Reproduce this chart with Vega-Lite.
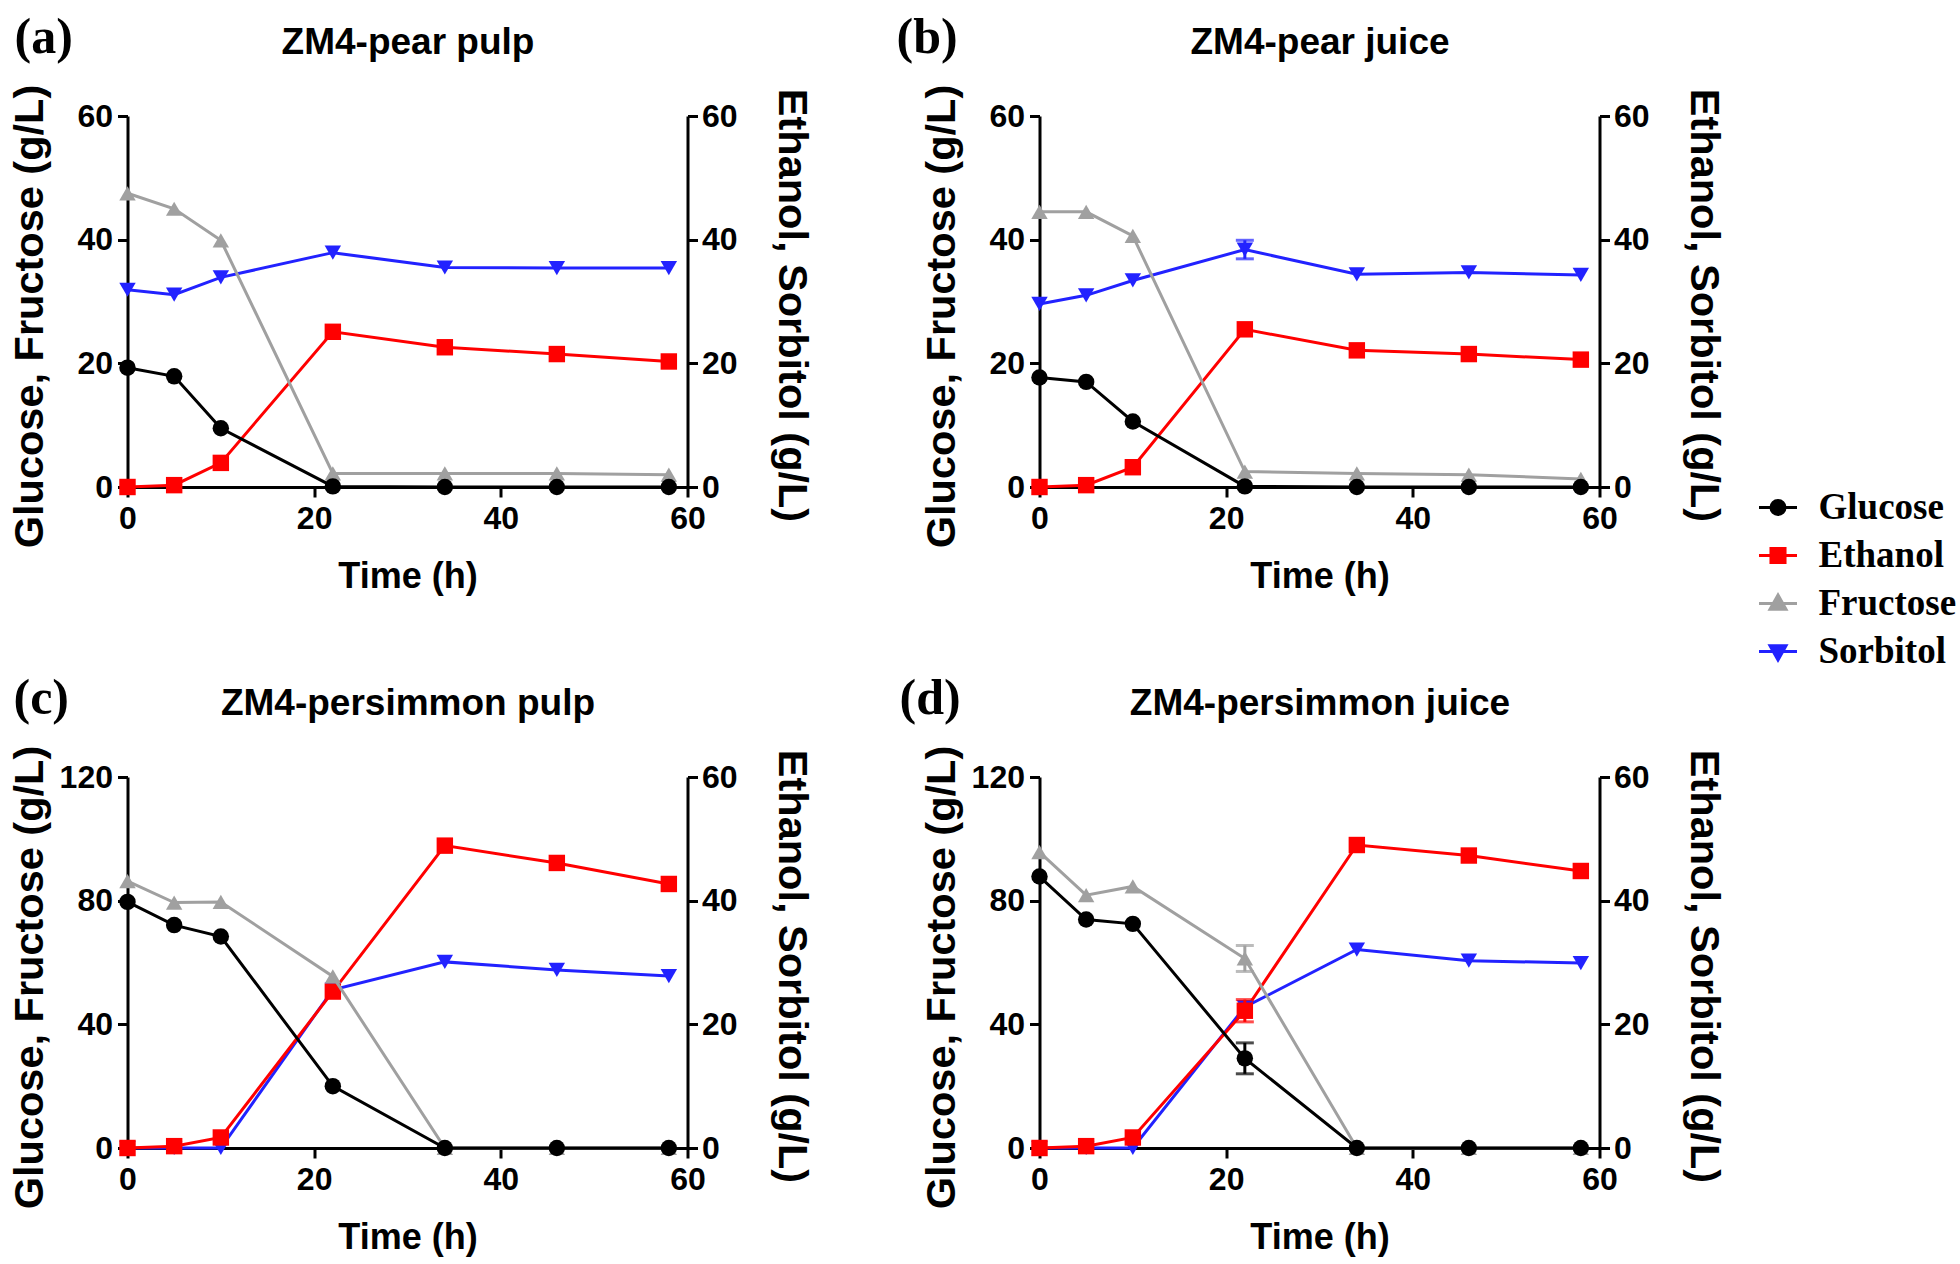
{
  "$schema": "https://vega.github.io/schema/vega-lite/v6.json",
  "padding": {"left": 9.5, "top": 13, "right": 5, "bottom": 5},
  "background": "white",
  "config": {
    "view": {"stroke": null},
    "font": "Liberation Sans",
    "axis": {
      "grid": false, "domainColor": "black", "domainWidth": 3, "tickColor": "black", "tickWidth": 3, "tickSize": 10,
      "labelFont": "Liberation Sans", "labelFontWeight": "bold", "labelFontSize": 32, "labelColor": "black",
      "labelFlush": false, "labelOverlap": false,
      "titleFont": "Liberation Sans", "titleFontWeight": "bold", "titleFontSize": 41.5, "titleColor": "black"
    },
    "axisLeft": {"labelPadding": 5, "minExtent": 70, "maxExtent": 70, "titlePadding": 6, "titleY": 200},
    "axisRight": {"labelPadding": 4, "minExtent": 60, "maxExtent": 60, "titlePadding": 22, "titleY": 189},
    "axisBottom": {"labelPadding": 6, "titlePadding": 25, "titleFontSize": 36},
    "axisTop": {"labels": false, "ticks": false, "domain": false, "minExtent": 0, "maxExtent": 0, "titlePadding": 55, "titleFontSize": 37},
    "title": {"anchor": "start", "frame": "group", "offset": -40, "font": "Liberation Serif", "fontSize": 50, "fontWeight": "bold", "color": "black"},
    "point": {"filled": true, "size": 270, "opacity": 1, "strokeWidth": 0},
    "line": {"strokeWidth": 3},
    "legend": {"orient": "none", "legendX": 1630, "legendY": 371, "labelFont": "Liberation Serif", "labelFontSize": 37, "labelFontWeight": "bold", "labelColor": "black", "symbolSize": 1444, "symbolStrokeWidth": 3, "symbolOpacity": 1, "labelOffset": 20, "rowPadding": 9, "padding": 0}
  },
  "datasets": {
    "d": [
      {"p":"a","s":"Sorbitol","t":0,"v":31.9},{"p":"a","s":"Sorbitol","t":5,"v":31.1},{"p":"a","s":"Sorbitol","t":10,"v":33.9},{"p":"a","s":"Sorbitol","t":22,"v":37.9},{"p":"a","s":"Sorbitol","t":34,"v":35.5},{"p":"a","s":"Sorbitol","t":46,"v":35.4},{"p":"a","s":"Sorbitol","t":58,"v":35.4},
      {"p":"a","s":"Ethanol","t":0,"v":0},{"p":"a","s":"Ethanol","t":5,"v":0.3},{"p":"a","s":"Ethanol","t":10,"v":3.9},{"p":"a","s":"Ethanol","t":22,"v":25.1},{"p":"a","s":"Ethanol","t":34,"v":22.6},{"p":"a","s":"Ethanol","t":46,"v":21.5},{"p":"a","s":"Ethanol","t":58,"v":20.3},
      {"p":"a","s":"Fructose","t":0,"v":47.5},{"p":"a","s":"Fructose","t":5,"v":45.0},{"p":"a","s":"Fructose","t":10,"v":39.9},{"p":"a","s":"Fructose","t":22,"v":2.2},{"p":"a","s":"Fructose","t":34,"v":2.2},{"p":"a","s":"Fructose","t":46,"v":2.2},{"p":"a","s":"Fructose","t":58,"v":2.0},
      {"p":"a","s":"Glucose","t":0,"v":19.3},{"p":"a","s":"Glucose","t":5,"v":17.9},{"p":"a","s":"Glucose","t":10,"v":9.5},{"p":"a","s":"Glucose","t":22,"v":0.1},{"p":"a","s":"Glucose","t":34,"v":0},{"p":"a","s":"Glucose","t":46,"v":0},{"p":"a","s":"Glucose","t":58,"v":0},

      {"p":"b","s":"Sorbitol","t":0,"v":29.6},{"p":"b","s":"Sorbitol","t":5,"v":31.0},{"p":"b","s":"Sorbitol","t":10,"v":33.4},{"p":"b","s":"Sorbitol","t":22,"v":38.4,"e":1.5},{"p":"b","s":"Sorbitol","t":34,"v":34.4},{"p":"b","s":"Sorbitol","t":46,"v":34.7},{"p":"b","s":"Sorbitol","t":58,"v":34.3},
      {"p":"b","s":"Ethanol","t":0,"v":0},{"p":"b","s":"Ethanol","t":5,"v":0.3},{"p":"b","s":"Ethanol","t":10,"v":3.2},{"p":"b","s":"Ethanol","t":22,"v":25.5},{"p":"b","s":"Ethanol","t":34,"v":22.1},{"p":"b","s":"Ethanol","t":46,"v":21.5},{"p":"b","s":"Ethanol","t":58,"v":20.6},
      {"p":"b","s":"Fructose","t":0,"v":44.5},{"p":"b","s":"Fructose","t":5,"v":44.5},{"p":"b","s":"Fructose","t":10,"v":40.6},{"p":"b","s":"Fructose","t":22,"v":2.5},{"p":"b","s":"Fructose","t":34,"v":2.2},{"p":"b","s":"Fructose","t":46,"v":2.0},{"p":"b","s":"Fructose","t":58,"v":1.3},
      {"p":"b","s":"Glucose","t":0,"v":17.7},{"p":"b","s":"Glucose","t":5,"v":17.0},{"p":"b","s":"Glucose","t":10,"v":10.6},{"p":"b","s":"Glucose","t":22,"v":0.1},{"p":"b","s":"Glucose","t":34,"v":0},{"p":"b","s":"Glucose","t":46,"v":0},{"p":"b","s":"Glucose","t":58,"v":0},

      {"p":"c","s":"Sorbitol","t":0,"v":0},{"p":"c","s":"Sorbitol","t":5,"v":0},{"p":"c","s":"Sorbitol","t":10,"v":0},{"p":"c","s":"Sorbitol","t":22,"v":25.6},{"p":"c","s":"Sorbitol","t":34,"v":30.1},{"p":"c","s":"Sorbitol","t":46,"v":28.8},{"p":"c","s":"Sorbitol","t":58,"v":27.8},
      {"p":"c","s":"Ethanol","t":0,"v":0},{"p":"c","s":"Ethanol","t":5,"v":0.3},{"p":"c","s":"Ethanol","t":10,"v":1.7},{"p":"c","s":"Ethanol","t":22,"v":25.3},{"p":"c","s":"Ethanol","t":34,"v":48.9},{"p":"c","s":"Ethanol","t":46,"v":46.1},{"p":"c","s":"Ethanol","t":58,"v":42.7},
      {"p":"c","s":"Fructose","t":0,"v":86.3},{"p":"c","s":"Fructose","t":5,"v":79.4},{"p":"c","s":"Fructose","t":10,"v":79.6},{"p":"c","s":"Fructose","t":22,"v":55.5},{"p":"c","s":"Fructose","t":34,"v":0},{"p":"c","s":"Fructose","t":46,"v":0},{"p":"c","s":"Fructose","t":58,"v":0},
      {"p":"c","s":"Glucose","t":0,"v":79.6},{"p":"c","s":"Glucose","t":5,"v":72.1},{"p":"c","s":"Glucose","t":10,"v":68.4},{"p":"c","s":"Glucose","t":22,"v":20.0},{"p":"c","s":"Glucose","t":34,"v":0},{"p":"c","s":"Glucose","t":46,"v":0},{"p":"c","s":"Glucose","t":58,"v":0},

      {"p":"d","s":"Sorbitol","t":0,"v":0},{"p":"d","s":"Sorbitol","t":5,"v":0},{"p":"d","s":"Sorbitol","t":10,"v":0},{"p":"d","s":"Sorbitol","t":22,"v":22.8},{"p":"d","s":"Sorbitol","t":34,"v":32.1},{"p":"d","s":"Sorbitol","t":46,"v":30.3},{"p":"d","s":"Sorbitol","t":58,"v":29.9},
      {"p":"d","s":"Ethanol","t":0,"v":0},{"p":"d","s":"Ethanol","t":5,"v":0.3},{"p":"d","s":"Ethanol","t":10,"v":1.7},{"p":"d","s":"Ethanol","t":22,"v":22.2,"e":1.8},{"p":"d","s":"Ethanol","t":34,"v":49.0},{"p":"d","s":"Ethanol","t":46,"v":47.3},{"p":"d","s":"Ethanol","t":58,"v":44.8},
      {"p":"d","s":"Fructose","t":0,"v":95.7},{"p":"d","s":"Fructose","t":5,"v":81.8},{"p":"d","s":"Fructose","t":10,"v":84.6},{"p":"d","s":"Fructose","t":22,"v":61.3,"e":4.2},{"p":"d","s":"Fructose","t":34,"v":0},{"p":"d","s":"Fructose","t":46,"v":0},{"p":"d","s":"Fructose","t":58,"v":0},
      {"p":"d","s":"Glucose","t":0,"v":87.8},{"p":"d","s":"Glucose","t":5,"v":73.9},{"p":"d","s":"Glucose","t":10,"v":72.5},{"p":"d","s":"Glucose","t":22,"v":29.0,"e":5.0},{"p":"d","s":"Glucose","t":34,"v":0},{"p":"d","s":"Glucose","t":46,"v":0},{"p":"d","s":"Glucose","t":58,"v":0}
    ]
  },
  "columns": 2,
  "spacing": {"column": 352, "row": 290},
  "bounds": "flush",
  "concat": [
    {
      "width": 560, "height": 371,
      "title": {"text": "(a)", "dx": -113},
      "data": {"name": "d"},
      "transform": [{"filter": "datum.p === 'a'"}],
      "layer": [
        {
          "transform": [{"filter": {"field": "s", "oneOf": ["Sorbitol", "Ethanol"]}}],
          "encoding": {
            "x": {"field": "t", "type": "quantitative", "scale": {"domain": [0, 60], "nice": false}, "axis": {"orient": "top", "title": "ZM4-pear pulp"}},
            "y": {"field": "v", "type": "quantitative", "scale": {"domain": [0, 60], "nice": false}, "axis": {"orient": "right", "title": "Ethanol, Sorbitol (g/L)", "values": [0, 20, 40, 60]}}
          },
          "layer": [
            {"mark": "line", "encoding": {"stroke": {"field": "s", "type": "nominal", "scale": {"domain": ["Glucose", "Ethanol", "Fructose", "Sorbitol"], "range": ["#000000", "#ff0000", "#a0a0a0", "#2222ff"]}, "legend": {"title": null, "symbolType": {"expr": "datum.value === 'Glucose' ? 'M-1,0H1M0.37,0A0.37,0.37,0,1,1,-0.37,0A0.37,0.37,0,1,1,0.37,0Z' : datum.value === 'Ethanol' ? 'M-1,0H1M-0.37,-0.37H0.37V0.37H-0.37Z' : datum.value === 'Fructose' ? 'M-1,0H1M0,-0.45L0.42,0.3H-0.42Z' : 'M-1,0H1M0,0.45L0.42,-0.3H-0.42Z'"}}}}},
            {"mark": "point", "encoding": {
              "fill": {"field": "s", "type": "nominal", "scale": {"domain": ["Glucose", "Ethanol", "Fructose", "Sorbitol"], "range": ["#000000", "#ff0000", "#a0a0a0", "#2222ff"]}, "legend": {"title": null, "symbolType": {"expr": "datum.value === 'Glucose' ? 'M-1,0H1M0.37,0A0.37,0.37,0,1,1,-0.37,0A0.37,0.37,0,1,1,0.37,0Z' : datum.value === 'Ethanol' ? 'M-1,0H1M-0.37,-0.37H0.37V0.37H-0.37Z' : datum.value === 'Fructose' ? 'M-1,0H1M0,-0.45L0.42,0.3H-0.42Z' : 'M-1,0H1M0,0.45L0.42,-0.3H-0.42Z'"}}},
              "shape": {"field": "s", "type": "nominal", "scale": {"domain": ["Ethanol", "Glucose", "Fructose", "Sorbitol"], "range": ["square", "circle", "triangle-up", "triangle-down"]}, "legend": null}}},
            {"transform": [{"filter": "isValid(datum.e)"}], "mark": {"type": "errorbar", "ticks": {"size": 18}, "thickness": 3}, "encoding": {"yError": {"field": "e"}, "color": {"field": "s", "type": "nominal", "scale": {"domain": ["Glucose", "Ethanol", "Fructose", "Sorbitol"], "range": ["#000000", "#ff0000", "#a0a0a0", "#2222ff"]}, "legend": null}}}
          ]
        },
        {
          "transform": [{"filter": {"field": "s", "oneOf": ["Fructose", "Glucose"]}}],
          "encoding": {
            "x": {"field": "t", "type": "quantitative", "scale": {"domain": [0, 60], "nice": false}, "axis": {"orient": "bottom", "title": "Time (h)", "values": [0, 20, 40, 60]}},
            "y": {"field": "v", "type": "quantitative", "scale": {"domain": [0, 60], "nice": false}, "axis": {"orient": "left", "title": "Glucose, Fructose (g/L)", "values": [0, 20, 40, 60]}}
          },
          "layer": [
            {"mark": "line", "encoding": {"stroke": {"field": "s", "type": "nominal"}}},
            {"mark": "point", "encoding": {"fill": {"field": "s", "type": "nominal"}, "shape": {"field": "s", "type": "nominal", "legend": null}}},
            {"transform": [{"filter": "isValid(datum.e)"}], "mark": {"type": "errorbar", "ticks": {"size": 18}, "thickness": 3}, "encoding": {"yError": {"field": "e"}, "color": {"field": "s", "type": "nominal", "legend": null}}}
          ]
        }
      ],
      "resolve": {"scale": {"y": "independent"}, "axis": {"x": "independent"}}
    },
    {
      "width": 560, "height": 371,
      "title": {"text": "(b)", "dx": -143},
      "data": {"name": "d"},
      "transform": [{"filter": "datum.p === 'b'"}],
      "layer": [
        {
          "transform": [{"filter": {"field": "s", "oneOf": ["Sorbitol", "Ethanol"]}}],
          "encoding": {
            "x": {"field": "t", "type": "quantitative", "scale": {"domain": [0, 60], "nice": false}, "axis": {"orient": "top", "title": "ZM4-pear juice"}},
            "y": {"field": "v", "type": "quantitative", "scale": {"domain": [0, 60], "nice": false}, "axis": {"orient": "right", "title": "Ethanol, Sorbitol (g/L)", "values": [0, 20, 40, 60]}}
          },
          "layer": [
            {"mark": "line", "encoding": {"stroke": {"field": "s", "type": "nominal"}}},
            {"mark": "point", "encoding": {"fill": {"field": "s", "type": "nominal"}, "shape": {"field": "s", "type": "nominal", "legend": null}}},
            {"transform": [{"filter": "isValid(datum.e)"}], "mark": {"type": "errorbar", "ticks": {"size": 18}, "thickness": 3}, "encoding": {"yError": {"field": "e"}, "color": {"field": "s", "type": "nominal", "legend": null}}}
          ]
        },
        {
          "transform": [{"filter": {"field": "s", "oneOf": ["Fructose", "Glucose"]}}],
          "encoding": {
            "x": {"field": "t", "type": "quantitative", "scale": {"domain": [0, 60], "nice": false}, "axis": {"orient": "bottom", "title": "Time (h)", "values": [0, 20, 40, 60]}},
            "y": {"field": "v", "type": "quantitative", "scale": {"domain": [0, 60], "nice": false}, "axis": {"orient": "left", "title": "Glucose, Fructose (g/L)", "values": [0, 20, 40, 60]}}
          },
          "layer": [
            {"mark": "line", "encoding": {"stroke": {"field": "s", "type": "nominal"}}},
            {"mark": "point", "encoding": {"fill": {"field": "s", "type": "nominal"}, "shape": {"field": "s", "type": "nominal", "legend": null}}},
            {"transform": [{"filter": "isValid(datum.e)"}], "mark": {"type": "errorbar", "ticks": {"size": 18}, "thickness": 3}, "encoding": {"yError": {"field": "e"}, "color": {"field": "s", "type": "nominal", "legend": null}}}
          ]
        }
      ],
      "resolve": {"scale": {"y": "independent"}, "axis": {"x": "independent"}}
    },
    {
      "width": 560, "height": 371,
      "title": {"text": "(c)", "dx": -114},
      "data": {"name": "d"},
      "transform": [{"filter": "datum.p === 'c'"}],
      "layer": [
        {
          "transform": [{"filter": {"field": "s", "oneOf": ["Sorbitol", "Ethanol"]}}],
          "encoding": {
            "x": {"field": "t", "type": "quantitative", "scale": {"domain": [0, 60], "nice": false}, "axis": {"orient": "top", "title": "ZM4-persimmon pulp"}},
            "y": {"field": "v", "type": "quantitative", "scale": {"domain": [0, 60], "nice": false}, "axis": {"orient": "right", "title": "Ethanol, Sorbitol (g/L)", "values": [0, 20, 40, 60]}}
          },
          "layer": [
            {"mark": "line", "encoding": {"stroke": {"field": "s", "type": "nominal"}}},
            {"mark": "point", "encoding": {"fill": {"field": "s", "type": "nominal"}, "shape": {"field": "s", "type": "nominal", "legend": null}}},
            {"transform": [{"filter": "isValid(datum.e)"}], "mark": {"type": "errorbar", "ticks": {"size": 18}, "thickness": 3}, "encoding": {"yError": {"field": "e"}, "color": {"field": "s", "type": "nominal", "legend": null}}}
          ]
        },
        {
          "transform": [{"filter": {"field": "s", "oneOf": ["Fructose", "Glucose"]}}],
          "encoding": {
            "x": {"field": "t", "type": "quantitative", "scale": {"domain": [0, 60], "nice": false}, "axis": {"orient": "bottom", "title": "Time (h)", "values": [0, 20, 40, 60]}},
            "y": {"field": "v", "type": "quantitative", "scale": {"domain": [0, 120], "nice": false}, "axis": {"orient": "left", "title": "Glucose, Fructose (g/L)", "values": [0, 40, 80, 120]}}
          },
          "layer": [
            {"mark": "line", "encoding": {"stroke": {"field": "s", "type": "nominal"}}},
            {"mark": "point", "encoding": {"fill": {"field": "s", "type": "nominal"}, "shape": {"field": "s", "type": "nominal", "legend": null}}},
            {"transform": [{"filter": "isValid(datum.e)"}], "mark": {"type": "errorbar", "ticks": {"size": 18}, "thickness": 3}, "encoding": {"yError": {"field": "e"}, "color": {"field": "s", "type": "nominal", "legend": null}}}
          ]
        }
      ],
      "resolve": {"scale": {"y": "independent"}, "axis": {"x": "independent"}}
    },
    {
      "width": 560, "height": 371,
      "title": {"text": "(d)", "dx": -140},
      "data": {"name": "d"},
      "transform": [{"filter": "datum.p === 'd'"}],
      "layer": [
        {
          "transform": [{"filter": {"field": "s", "oneOf": ["Sorbitol", "Ethanol"]}}],
          "encoding": {
            "x": {"field": "t", "type": "quantitative", "scale": {"domain": [0, 60], "nice": false}, "axis": {"orient": "top", "title": "ZM4-persimmon juice"}},
            "y": {"field": "v", "type": "quantitative", "scale": {"domain": [0, 60], "nice": false}, "axis": {"orient": "right", "title": "Ethanol, Sorbitol (g/L)", "values": [0, 20, 40, 60]}}
          },
          "layer": [
            {"mark": "line", "encoding": {"stroke": {"field": "s", "type": "nominal"}}},
            {"mark": "point", "encoding": {"fill": {"field": "s", "type": "nominal"}, "shape": {"field": "s", "type": "nominal", "legend": null}}},
            {"transform": [{"filter": "isValid(datum.e)"}], "mark": {"type": "errorbar", "ticks": {"size": 18}, "thickness": 3}, "encoding": {"yError": {"field": "e"}, "color": {"field": "s", "type": "nominal", "legend": null}}}
          ]
        },
        {
          "transform": [{"filter": {"field": "s", "oneOf": ["Fructose", "Glucose"]}}],
          "encoding": {
            "x": {"field": "t", "type": "quantitative", "scale": {"domain": [0, 60], "nice": false}, "axis": {"orient": "bottom", "title": "Time (h)", "values": [0, 20, 40, 60]}},
            "y": {"field": "v", "type": "quantitative", "scale": {"domain": [0, 120], "nice": false}, "axis": {"orient": "left", "title": "Glucose, Fructose (g/L)", "values": [0, 40, 80, 120]}}
          },
          "layer": [
            {"mark": "line", "encoding": {"stroke": {"field": "s", "type": "nominal"}}},
            {"mark": "point", "encoding": {"fill": {"field": "s", "type": "nominal"}, "shape": {"field": "s", "type": "nominal", "legend": null}}},
            {"transform": [{"filter": "isValid(datum.e)"}], "mark": {"type": "errorbar", "ticks": {"size": 18}, "thickness": 3}, "encoding": {"yError": {"field": "e"}, "color": {"field": "s", "type": "nominal", "legend": null}}}
          ]
        }
      ],
      "resolve": {"scale": {"y": "independent"}, "axis": {"x": "independent"}}
    }
  ]
}
